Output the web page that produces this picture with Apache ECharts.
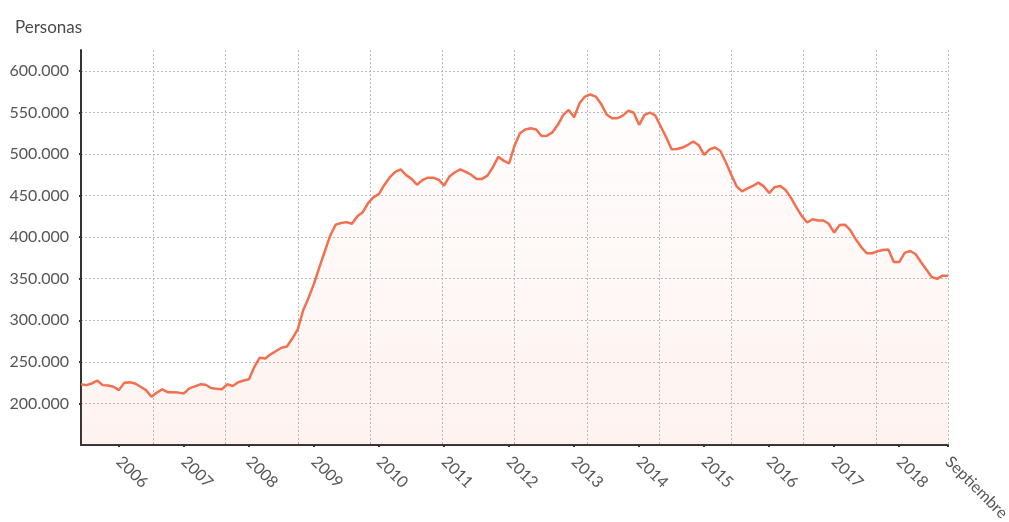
<!DOCTYPE html>
<html>
<head>
<meta charset="utf-8">
<script src="https://cdn.jsdelivr.net/npm/echarts@6/dist/echarts.min.js"></script>
<style>
html,body{margin:0;padding:0;background:#fff;}
#chart{width:1009px;height:522px;}
</style>
</head>
<body>
<div id="chart"></div>
<script>
// Monthly values, May 2005 .. September 2018
const values = [
223000,222000,224000,227500,222000,221500,220000,216000,225000,225500,
224000,220000,216000,208000,213000,217000,213500,213500,213000,212000,
218000,220500,223000,222500,218500,217500,217000,223000,221000,225500,
227500,229000,244000,255000,254000,259000,263000,267000,268500,278000,
289000,312000,327000,344000,364000,383000,402000,415000,417000,418000,
416000,425000,430000,441000,448000,452000,463000,472000,478500,481500,
474500,470000,463000,468500,471500,471500,469000,462000,473000,478000,
481500,478500,475000,470000,470000,474000,484000,496500,492000,488500,
510000,525000,529500,531000,529500,521500,522000,526000,535000,547000,
553000,544000,561000,569000,571500,569000,560000,547500,543000,543000,
546000,552000,549500,535000,547000,549800,546000,533000,520000,505700,
506000,507700,511000,515000,510500,499000,505500,507700,503500,490000,
475000,461000,455000,458500,461500,465500,461000,453000,460000,461600,
457000,447500,436000,425500,417500,421500,420000,420000,416000,405500,
414500,415000,408000,397000,388000,380600,380600,383000,384500,385000,
370000,370000,381000,383300,379700,370000,361000,352000,349700,353600,
353600
];
const startYear = 2005, startMonth = 5;
const categories = values.map((_, i) => {
  const m = startMonth - 1 + i;
  return (startYear + Math.floor(m / 12)) + '-' + String(m % 12 + 1).padStart(2, '0');
});
const tickIndices = [7,19,31,43,55,67,79,91,103,115,127,139,151,160];
const tickLabels = ['2006','2007','2008','2009','2010','2011','2012','2013','2014','2015','2016','2017','2018','Septiembre'];
const yTitle = 'Personas';

const fmt = v => String(v).replace(/\B(?=(\d{3})+(?!\d))/g, '.');
const chart = echarts.init(document.getElementById('chart'));
const font = 'Lato, "Open Sans", sans-serif';
chart.setOption({
  animation: false,
  title: { text: yTitle, left: 10, top: 14, textStyle: { fontFamily: font, fontSize: 17, fontWeight: 'normal', color: '#4a4a4a' } },
  grid: { left: 81, right: 61, top: 50, bottom: 77, containLabel: false, outerBoundsMode: 'none' },
  xAxis: [{
    type: 'category', data: categories, boundaryGap: false,
    axisLine: { lineStyle: { color: '#333', width: 2 } },
    axisTick: { show: true, length: 2, interval: (i) => tickIndices.includes(i), lineStyle: { color: '#333', width: 2 } },
    axisLabel: {
      interval: (i) => tickIndices.includes(i),
      formatter: (v, i) => { const k = tickIndices.indexOf(i); return k >= 0 ? tickLabels[k] : ''; },
      rotate: -45, margin: 14, fontFamily: font, fontSize: 16, color: '#555'
    },
    splitLine: { show: false }
  }, {
    type: 'value', min: 0, max: 12, interval: 1, position: 'bottom',
    axisLine: { show: false }, axisTick: { show: false }, axisLabel: { show: false },
    splitLine: { show: true, lineStyle: { color: '#bbb', type: [2, 2], width: 1 } }
  }],
  yAxis: {
    type: 'value', min: 150000, max: 625000, interval: 50000,
    axisLine: { show: true, lineStyle: { color: '#333', width: 2 } },
    axisTick: { show: true, length: 2, lineStyle: { color: '#333', width: 2 } },
    axisLabel: { showMaxLabel: false, showMinLabel: false, formatter: fmt, fontFamily: font, fontSize: 16, color: '#555', margin: 12 },
    splitLine: { show: true, showMaxLine: false, showMinLine: false, lineStyle: { color: '#bbb', type: [2, 2], width: 1 } }
  },
  series: [{
    type: 'line', data: values, xAxisIndex: 0, symbol: 'none', smooth: false,
    lineStyle: { color: '#f2704f', width: 2.5 },
    areaStyle: { color: new echarts.graphic.LinearGradient(0, 0, 0, 1, [
      { offset: 0, color: 'rgba(242,112,79,0.02)' },
      { offset: 1, color: 'rgba(242,112,79,0.12)' }
    ]) }
  }]
});
</script>
</body>
</html>
